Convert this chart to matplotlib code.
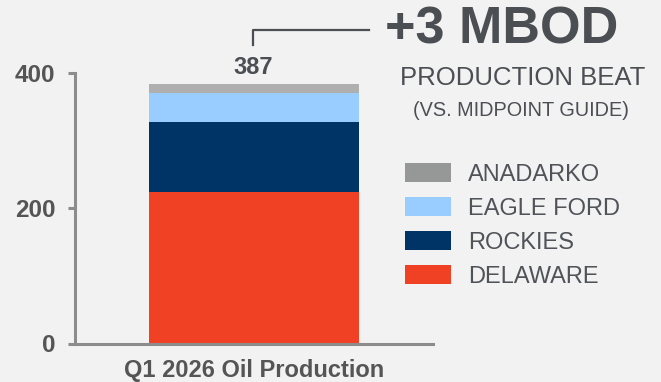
import matplotlib.pyplot as plt
from matplotlib.patches import Patch
from matplotlib.lines import Line2D

# data (MBOD)
category = "Q1 2026 Oil Production"
segments = ["DELAWARE", "ROCKIES", "EAGLE FORD", "ANADARKO"]
values = [224, 103, 43, 13]
total_label = "387"
bar_colors = ["#f04124", "#003366", "#99ccff", "#afafaf"]
legend_colors = ["#f04124", "#003366", "#99ccff", "#959897"]
yticks = [0, 200, 400]

W, H = 661, 382
plt.rcParams['font.family'] = ['Liberation Sans', 'DejaVu Sans']

fig = plt.figure(figsize=(W / 100, H / 100), dpi=100)
fig.patch.set_facecolor("#f2f2f2")


def px(x, y):
    # pixel position (from top-left) to figure fraction
    return x / W, 1 - y / H


ax = fig.add_axes([75 / W, 1 - 343.5 / H, (433 - 75) / W, (343.5 - 72.7) / H])
ax.set_facecolor("none")

bottom = 0
for name, v, c in zip(segments, values, bar_colors):
    ax.bar(0, v, width=0.589, bottom=bottom, color=c, linewidth=0)
    bottom += v

ax.set_xlim(-0.5, 0.5)
ax.set_ylim(0, 400)
ax.set_yticks(yticks)
ax.set_yticklabels([str(t) for t in yticks], fontsize=17.5, fontweight="bold", color="#555555")
ax.set_xticks([0])
ax.set_xticklabels([category], fontsize=17, fontweight="bold", color="#555555")
ax.tick_params(axis="x", length=0, pad=11)
ax.tick_params(axis="y", length=5, width=2.2, color="#8c8c8c", pad=9)

for s in ["top", "right"]:
    ax.spines[s].set_visible(False)
for s in ["left", "bottom"]:
    ax.spines[s].set_color("#8c8c8c")
    ax.spines[s].set_linewidth(2.2)

# total label above the bar
fig.text(*px(253, 74), total_label, ha="center", va="baseline",
         fontsize=17, fontweight="bold", color="#4b4e53")

# bracket leading to the callout
fig.add_artist(Line2D([253 / W, 253 / W, 369 / W], [1 - 45 / H, 1 - 30 / H, 1 - 30 / H],
                      transform=fig.transFigure, color="#4b4e53", linewidth=1.6))

fig.text(*px(502, 43), "+3 MBOD", ha="center", va="baseline",
         fontsize=37.5, fontweight="bold", color="#4b4e53")
fig.text(*px(523, 85), "PRODUCTION BEAT", ha="center", va="baseline",
         fontsize=18.5, color="#4b4e53")
fig.text(*px(521, 116), "(VS. MIDPOINT GUIDE)", ha="center", va="baseline",
         fontsize=14.3, color="#4b4e53")

handles = [Patch(facecolor=c, edgecolor="none") for c in legend_colors[::-1]]
leg = fig.legend(handles, segments[::-1], loc="upper left",
                 bbox_to_anchor=px(405, 163), bbox_transform=fig.transFigure,
                 frameon=False, fontsize=17, handlelength=1.95, handleheight=0.85,
                 handletextpad=0.72, labelspacing=0.49, borderaxespad=0, borderpad=0)
for t in leg.get_texts():
    t.set_color("#505358")

fig.savefig("out.png", dpi=100, facecolor=fig.get_facecolor())
